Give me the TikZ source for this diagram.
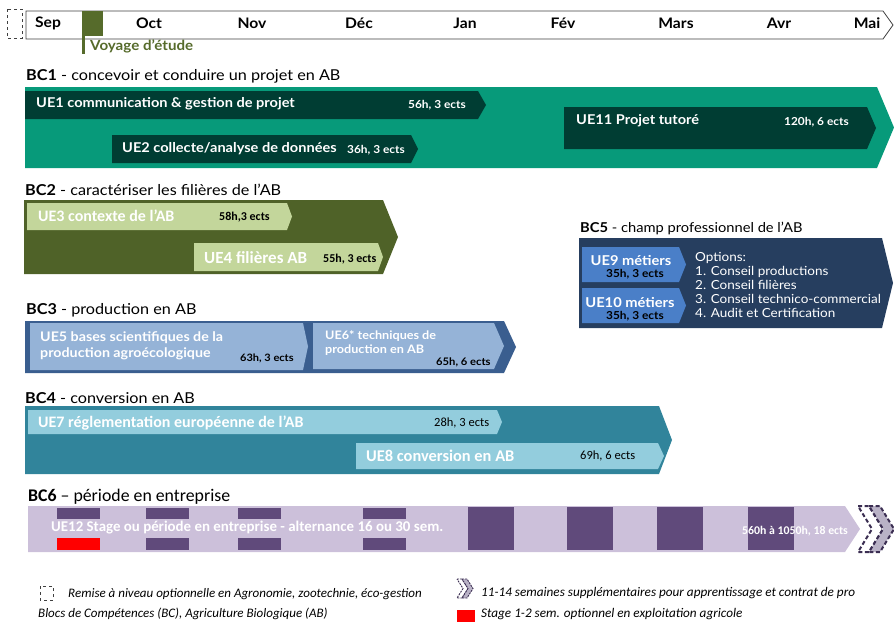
\documentclass[tikz,border=0pt]{standalone}
\usepackage{fontspec}
\setmainfont{Lato}[FakeStretch=1.08]
\newfontfamily\carl{Carlito}
\usetikzlibrary{calc}
\definecolor{bcone}{HTML}{079A7A}
\definecolor{ueonec}{HTML}{003D33}
\definecolor{bctwo}{HTML}{4F6228}
\definecolor{uelg}{HTML}{C3D69B}
\definecolor{bcfive}{HTML}{263E5F}
\definecolor{uenine}{HTML}{4A7FC8}
\definecolor{bcthree}{HTML}{3A5E8F}
\definecolor{uefive}{HTML}{95B3D7}
\definecolor{bcfour}{HTML}{31849B}
\definecolor{ueseven}{HTML}{93CDDD}
\definecolor{bcsix}{HTML}{CCC0DA}
\definecolor{purp}{HTML}{604A7B}
\definecolor{voy}{HTML}{566B2B}
\definecolor{chevd}{HTML}{3B2E52}
\definecolor{chevl}{HTML}{B9B2C6}
\newcommand\fsz[1]{\fontsize{#1}{#1}\selectfont}
\newcommand\abox[6]{\fill[#1] (#2,#3) -- (#4,#3) -- ({#4+#6},{(#3+#5)/2}) -- (#4,#5) -- (#2,#5) -- cycle;}
\begin{document}
\begin{tikzpicture}[x=1pt,y=-1pt,
  txt/.style={inner sep=0pt,anchor=west},
  month/.style={inner sep=0pt,font=\fsz{14.5}\bfseries},
  bclab/.style={inner sep=0pt,anchor=west,font=\fsz{15}},
  uew/.style={inner sep=0pt,anchor=west,text=white,font=\fsz{13.5}\bfseries},
  hrs/.style={inner sep=0pt,anchor=west,font=\fsz{11}\bfseries},
  leg/.style={inner sep=0pt,anchor=west,font=\carl\fsz{13}\itshape},
  dashbox/.style={draw=black!75,dashed,line width=0.8pt},
  chevst/.style={draw=chevd,line width=2pt,dash pattern=on 4pt off 2.5pt}]
\useasboundingbox (0,0) rectangle (894,622);

% timeline
\draw[draw=black!75,line width=0.8pt,fill=white] (26,11) -- (883,11) -- (893,25) -- (883,39) -- (26,39) -- cycle;
\draw[dashbox] (7,9) rectangle (22,38);
\fill[voy] (82,11) rectangle (103,36);
\draw[voy,line width=3pt] (83.5,36) -- (83.5,54);
\node[txt,text=voy,font=\fsz{14}\bfseries] (voyage) at (90,46) {Voyage d’étude};
\node[month] (sep) at (48,23) {Sep};
\node[month] (oct) at (149,23) {Oct};
\node[month] (nov) at (252,23) {Nov};
\node[month] (dec) at (359,23) {Déc};
\node[month] (jan) at (465,23) {Jan};
\node[month] (fev) at (563,23) {Fév};
\node[month] (mar) at (676,23) {Mars};
\node[month] (avr) at (779,23) {Avr};
\node[month] (mai) at (867,23) {Mai};

% BC1
\node[bclab] (bc1) at (26,76) {\textbf{BC1} - concevoir et conduire un projet en AB};
\abox{bcone}{25}{87}{877}{168}{17}
\abox{ueonec}{25}{91}{478}{119}{8}
\abox{ueonec}{112}{135}{411}{163}{7}
\abox{ueonec}{564}{107}{867}{149}{9}
\node[uew] (ue1) at (36,104) {UE1 communication \& gestion de projet};
\node[hrs,text=white] (ue1h) at (408,105) {56h, 3 ects};
\node[uew] (ue2) at (122,149) {UE2 collecte/analyse de données};
\node[hrs,text=white] (ue2h) at (347,150) {36h, 3 ects};
\node[uew] (ue11) at (576,121) {UE11 Projet tutoré};
\node[hrs,text=white] (ue11h) at (784,122) {120h, 6 ects};

% BC2
\node[bclab] (bc2) at (25,190) {\textbf{BC2} - caractériser les filières de l’AB};
\abox{bctwo}{24}{200}{383}{274}{15}
\abox{uelg}{27}{203}{287}{230}{5}
\abox{uelg}{194}{243}{378}{271}{5}
\node[txt,text=white,font=\carl\fsz{16}\bfseries] (ue3) at (38,216) {UE3 contexte de l’AB};
\node[txt,font=\carl\fsz{12}\bfseries] (ue3h) at (219,217) {58h,3 ects};
\node[txt,text=white,font=\carl\fsz{17}\bfseries] (ue4) at (204,258) {UE4 filières AB};
\node[txt,font=\carl\fsz{12}\bfseries] (ue4h) at (323,259) {55h, 3 ects};

% BC5
\node[bclab,font=\fsz{13.6}] (bc5) at (580,228) {\textbf{BC5} - champ professionnel de l’AB};
\abox{bcfive}{579}{238}{882}{328}{11}
\abox{uenine}{582}{247}{679}{282}{7}
\abox{uenine}{582}{288}{679}{323}{7}
\node[inner sep=0pt,text=white,font=\fsz{13.6}\bfseries] (ue9) at (631,260) {UE9 métiers};
\node[inner sep=0pt,font=\fsz{11}\bfseries] (ue9h) at (635,274) {35h, 3 ects};
\node[inner sep=0pt,text=white,font=\fsz{13.6}\bfseries] (ue10) at (630,302) {UE10 métiers};
\node[inner sep=0pt,font=\fsz{11}\bfseries] (ue10h) at (635,316) {35h, 3 ects};
\node[txt,text=white,font=\fsz{12.5},align=left] (opts) at (695,285) {Options:\\[1.6pt]1. Conseil productions\\[1.6pt]2. Conseil filières\\[1.6pt]3. Conseil technico-commercial\\[1.6pt]4. Audit et Certification};

% BC3
\node[bclab] (bc3) at (26,310) {\textbf{BC3} - production en AB};
\abox{bcthree}{25}{321}{504}{373}{12}
\abox{uefive}{30}{323}{303}{370}{5}
\abox{uefive}{313}{323}{494}{369}{10}
\node[txt,text=white,font=\fsz{13.2}\bfseries,align=left] (ue5) at (40,346) {UE5 bases scientifiques de la\\[2.5pt]production agroécologique};
\node[hrs,font=\fsz{10.2}\bfseries] (ue5h) at (240,358) {63h, 3 ects};
\node[txt,text=white,font=\fsz{11.7}\bfseries,align=left] (ue6) at (325,343) {UE6* techniques de\\[2pt]production en AB};
\node[hrs,font=\fsz{10.4}\bfseries] (ue6h) at (436,362) {65h, 6 ects};

% BC4
\node[bclab] (bc4) at (25,398) {\textbf{BC4} - conversion en AB};
\abox{bcfour}{25}{406}{659}{474}{13}
\abox{ueseven}{28}{410}{497}{434}{5}
\abox{ueseven}{356}{443}{658}{469}{6}
\node[txt,text=white,font=\carl\fsz{16}\bfseries] (ue7) at (38,423) {UE7 réglementation européenne de l’AB};
\node[txt,font=\carl\fsz{12.5}] (ue7h) at (434,423) {28h, 3 ects};
\node[txt,text=white,font=\carl\fsz{16.4}\bfseries] (ue8) at (366,456) {UE8 conversion en AB};
\node[txt,font=\carl\fsz{12.5}] (ue8h) at (580,456) {69h, 6 ects};

% BC6
\node[txt,font=\carl\fsz{17.8}] (bc6) at (28,497) {\textbf{BC6} – période en entreprise};
\abox{bcsix}{28}{506}{845}{552}{15}
\foreach \a in {57,146,238,363}{
  \fill[purp] (\a,508) rectangle ++(43,11);
  \fill[purp] (\a,538) rectangle ++(43,12);
}
\fill[red] (57,538) rectangle ++(43,12);
\foreach \a in {468,567,657,748}{
  \fill[purp] (\a,507) rectangle ++(46,43);
}
\node[txt,text=white,font=\carl\fsz{14.9}\bfseries] (ue12) at (51,528) {UE12 Stage ou période en entreprise - alternance 16 ou 30 sem.};
\node[txt,text=white,font=\carl\fsz{11.8}\bfseries] (ue12h) at (742,531) {560h à 1050h, 18 ects};
% end chevrons
\filldraw[chevst,fill=white] (858,506) -- (869,506) -- (883,529) -- (869,552) -- (858,552) -- (872,529) -- cycle;
\filldraw[chevst,fill=chevl] (869,506) -- (880,506) -- (894,529) -- (880,552) -- (869,552) -- (883,529) -- cycle;

% legend
\draw[dashbox] (40,586) rectangle (53,600);
\node[leg] (l1) at (68,594) {Remise à niveau optionnelle en Agronomie, zootechnie, éco-gestion};
\node[leg] (l2) at (38,614) {Blocs de Compétences (BC), Agriculture Biologique (AB)};
\filldraw[draw=chevd,line width=0.9pt,dash pattern=on 2pt off 1pt,fill=white] (457,579) -- (462,579) -- (468,588.5) -- (462,598) -- (457,598) -- (463,588.5) -- cycle;
\filldraw[draw=chevd,line width=0.9pt,dash pattern=on 2pt off 1pt,fill=chevl] (462,579) -- (467,579) -- (473,588.5) -- (467,598) -- (462,598) -- (468,588.5) -- cycle;
\node[leg,font=\carl\fsz{13.2}\itshape] (l3) at (481,593) {11-14 semaines supplémentaires pour apprentissage et contrat de pro};
\fill[red] (457,610) rectangle (475,622);
\node[leg,font=\carl\fsz{13.2}\itshape] (l4) at (481,614) {Stage 1-2 sem. optionnel en exploitation agricole};
\end{tikzpicture}
\end{document}
